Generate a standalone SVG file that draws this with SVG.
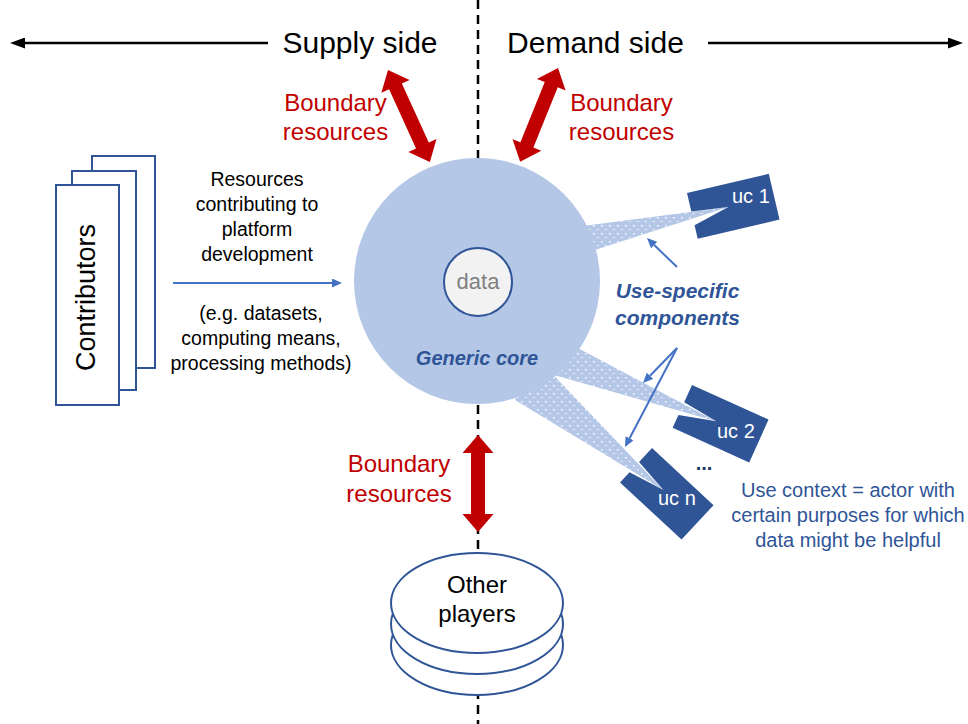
<svg xmlns="http://www.w3.org/2000/svg" width="968" height="724" viewBox="0 0 968 724">
<style>
text{font-family:"Liberation Sans",Arial,sans-serif;}
.blk{fill:#000;}
.red{fill:#C00000;}
.nav{fill:#2F5597;font-weight:bold;font-style:italic;}
.uct{fill:#fff;font-size:20px;}
.stk{fill:#fff;stroke:#2F5597;stroke-width:2;}
.uc{fill:#2F5597;}
.rarrow{fill:#C00000;}
.bl{stroke:#4472C4;stroke-width:2;fill:none;}
</style>
<defs>
<marker id="mblk" markerUnits="userSpaceOnUse" markerWidth="15" markerHeight="11" viewBox="0 0 15 11" refX="0" refY="5.5" orient="auto"><path d="M0,0 L15,5.5 L0,11 Z" fill="#000"/></marker>
<marker id="mblu" markerUnits="userSpaceOnUse" markerWidth="10" markerHeight="9" viewBox="0 0 10 9" refX="0" refY="4.5" orient="auto"><path d="M0,0 L10,4.5 L0,9 Z" fill="#4472C4"/></marker>
<pattern id="dots" width="8" height="8" patternUnits="userSpaceOnUse">
<rect width="8" height="8" fill="#B4C7E7"/>
<rect x="1" y="1" width="1.6" height="1.6" fill="#fff" opacity="0.9"/>
<rect x="4.5" y="5" width="2.5" height="0.9" fill="#fff" opacity="0.7"/>
</pattern>
<path id="dbl" d="M0,0 L18,-15.5 L18,-7 L83,-7 L83,-15.5 L101,0 L83,15.5 L83,7 L18,7 L18,15.5 Z"/>
<path id="ucshape" d="M0,0 L84,0 L84,47 L0,47 L0,33 L37,23 L0,19 Z"/>
</defs>

<line x1="478" y1="0" x2="478" y2="724" stroke="#000" stroke-width="2.5" stroke-dasharray="9 6"/>

<g id="beams">
<polygon points="560,229 728.3,206.9 570,258" fill="url(#dots)"/>
<polygon points="555,336 716.2,421.2 540,371" fill="url(#dots)"/>
<polygon points="540,361 663.4,490.1 515,400" fill="url(#dots)"/>
</g>

<g id="core">
<circle cx="477" cy="281" r="123" fill="#B4C7E7"/>
<text class="nav" x="477" y="365" font-size="20" text-anchor="middle">Generic core</text>
</g>
<g id="data">
<circle cx="478" cy="282" r="34" fill="#F2F2F2" stroke="#2F5597" stroke-width="2"/>
<text x="478" y="289" font-size="22" fill="#808080" text-anchor="middle">data</text>
</g>

<g id="uc1">
<use href="#ucshape" class="uc" transform="translate(687,193) rotate(-13.2)"/>
<text class="uct" x="732" y="203">uc 1</text>
</g>
<g id="uc2">
<use href="#ucshape" class="uc" transform="translate(692,385) rotate(24.3)"/>
<text class="uct" x="717" y="438">uc 2</text>
</g>
<g id="ucn">
<use href="#ucshape" class="uc" transform="translate(652,448) rotate(42.9)"/>
<text class="uct" x="658" y="505">uc n</text>
</g>

<g id="contributors">
<rect x="92" y="156" width="63" height="212" class="stk"/>
<rect x="72" y="171" width="64" height="219" class="stk"/>
<rect x="56" y="185" width="63" height="220" class="stk"/>
<text transform="translate(95,297.5) rotate(-90)" font-size="27" text-anchor="middle" class="blk">Contributors</text>
</g>

<g id="other-players">
<ellipse cx="477" cy="645" rx="86" ry="50" class="stk"/>
<ellipse cx="477" cy="624" rx="86" ry="50" class="stk"/>
<ellipse cx="477" cy="603" rx="86" ry="50" class="stk"/>
<text x="477" y="593" font-size="24" text-anchor="middle" class="blk">Other</text>
<text x="477" y="622" font-size="24" text-anchor="middle" class="blk">players</text>
</g>

<g id="connectors">
<path d="M268,43 L25,43" stroke="#000" stroke-width="2.5" marker-end="url(#mblk)"/>
<path d="M708,43 L948,43" stroke="#000" stroke-width="2.5" marker-end="url(#mblk)"/>
<use href="#dbl" class="rarrow" transform="translate(388,70) rotate(65.5)"/>
<use href="#dbl" class="rarrow" transform="translate(558,68) rotate(112)"/>
<path class="rarrow" d="M478,435 L493.5,453 L485,453 L485,514 L493.5,514 L478,532 L462.5,514 L471,514 L471,453 L462.5,453 Z"/>
<path class="bl" d="M173,283 L332,283" marker-end="url(#mblu)"/>
<path class="bl" d="M677,267 L654.2,245" marker-end="url(#mblu)"/>
<path class="bl" d="M677,348 L650,375.8" marker-end="url(#mblu)"/>
<path class="bl" d="M677,348 L629.6,438.2" marker-end="url(#mblu)"/>
</g>

<g id="labels">
<text x="360" y="53" font-size="30" text-anchor="middle" class="blk">Supply side</text>
<text x="595.5" y="53" font-size="30" text-anchor="middle" class="blk">Demand side</text>
<text x="335.5" y="111" font-size="24" text-anchor="middle" class="red">Boundary</text>
<text x="335.5" y="140" font-size="24" text-anchor="middle" class="red">resources</text>
<text x="621.5" y="111" font-size="24" text-anchor="middle" class="red">Boundary</text>
<text x="621.5" y="140" font-size="24" text-anchor="middle" class="red">resources</text>
<text x="399" y="472" font-size="24" text-anchor="middle" class="red">Boundary</text>
<text x="399" y="502" font-size="24" text-anchor="middle" class="red">resources</text>
<g font-size="19.5" text-anchor="middle" class="blk">
<text x="257" y="186">Resources</text>
<text x="257" y="211">contributing to</text>
<text x="257" y="236">platform</text>
<text x="257" y="261">development</text>
<text x="261" y="320">(e.g. datasets,</text>
<text x="261" y="345">computing means,</text>
<text x="261" y="370">processing methods)</text>
</g>
<text class="nav" x="677.5" y="298" font-size="21" text-anchor="middle">Use-specific</text>
<text class="nav" x="677.5" y="325" font-size="21" text-anchor="middle">components</text>
<text x="704" y="470" font-size="20" font-weight="bold" text-anchor="middle" fill="#1F3864">...</text>
<g font-size="20" text-anchor="middle" fill="#2F5597">
<text x="848" y="497">Use context = actor with</text>
<text x="848" y="522">certain purposes for which</text>
<text x="848" y="547">data might be helpful</text>
</g>
</g>
</svg>
